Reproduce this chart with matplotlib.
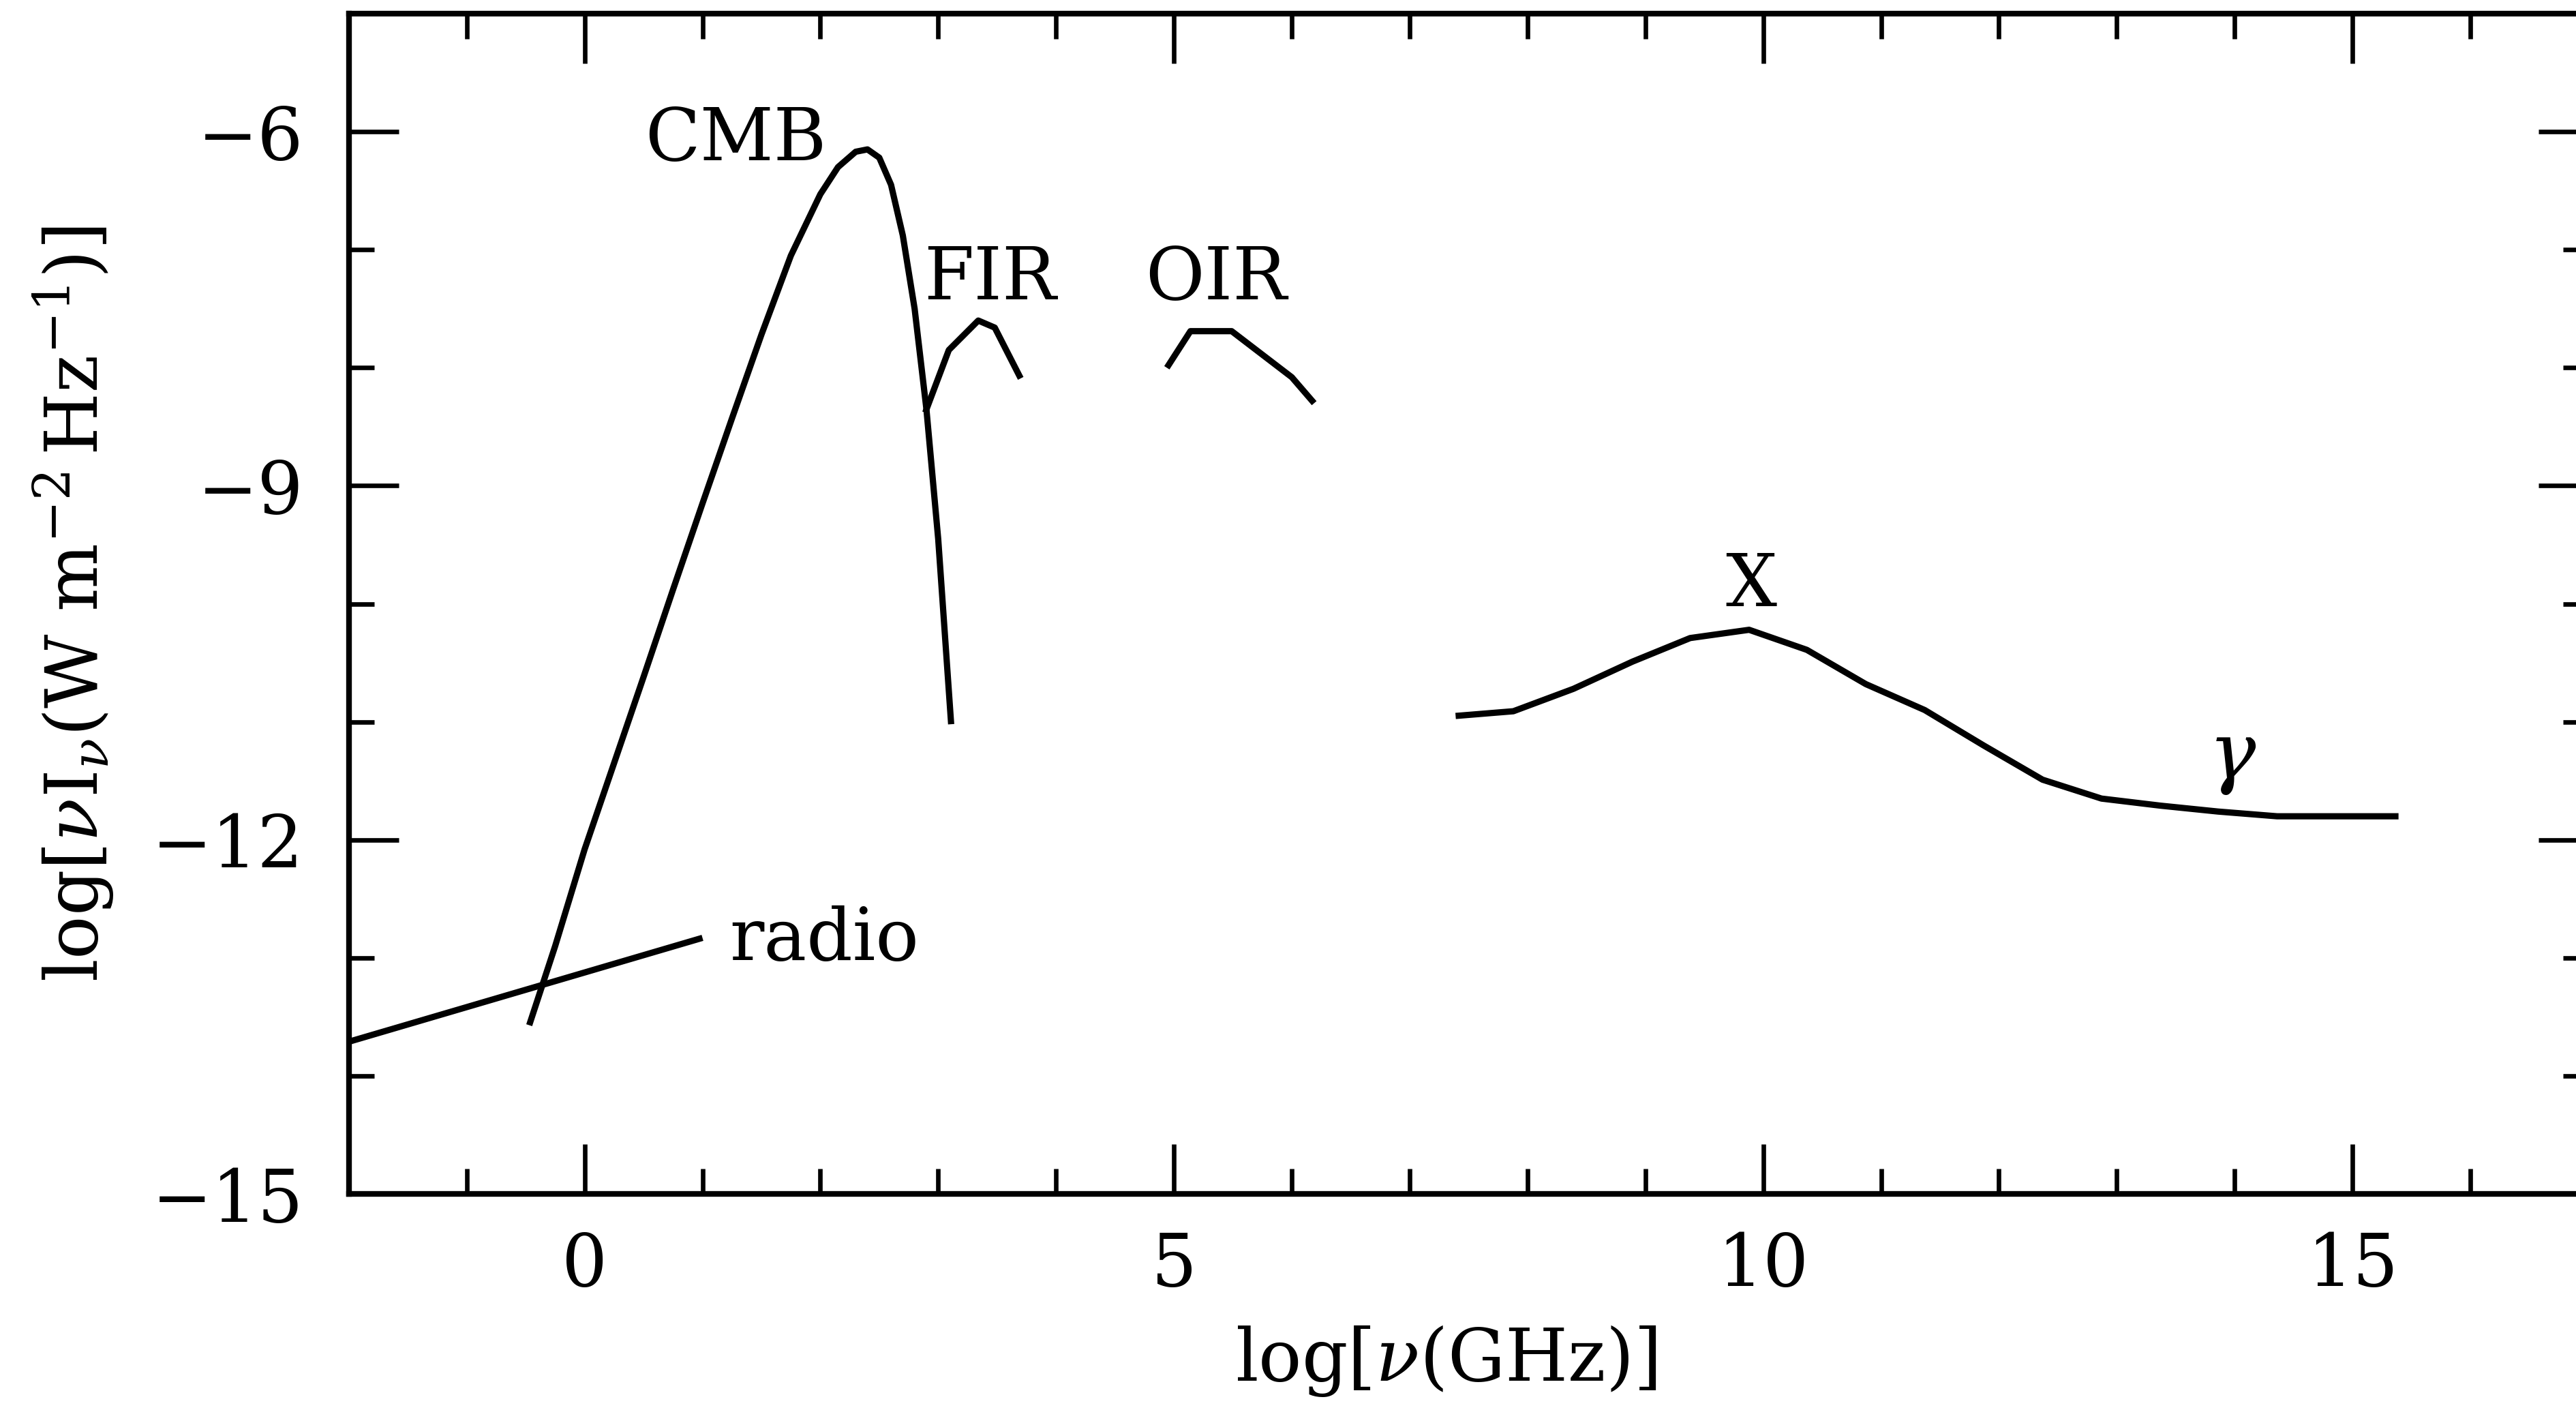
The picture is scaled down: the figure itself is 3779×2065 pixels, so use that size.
import matplotlib
matplotlib.use("Agg")
import matplotlib.pyplot as plt
from matplotlib.ticker import MultipleLocator

## Data (log frequency in GHz, log nu*I_nu)
radio_x = [-2.0, 1.0]
radio_y = [-13.71, -12.83]

cmb_x = [-0.47, -0.25, 0.0, 0.25, 0.5, 0.75, 1.0, 1.25, 1.5, 1.75, 2.0,
         2.15, 2.3, 2.4, 2.5, 2.6, 2.7, 2.8, 2.9, 3.0, 3.11]
cmb_y = [-13.57, -12.90, -12.08, -11.35, -10.62, -9.88, -9.15, -8.43, -7.72,
         -7.05, -6.53, -6.30, -6.17, -6.15, -6.22, -6.45, -6.88, -7.50,
         -8.35, -9.45, -11.02]

fir_x = [2.89, 3.09, 3.34, 3.48, 3.70]
fir_y = [-8.38, -7.85, -7.60, -7.66, -8.09]

oir_x = [4.94, 5.14, 5.49, 6.00, 6.19]
oir_y = [-8.00, -7.69, -7.69, -8.08, -8.30]

xg_x = [7.39, 7.88, 8.39, 8.89, 9.38, 9.88, 10.37, 10.87, 11.37, 11.87,
        12.37, 12.87, 13.37, 13.86, 14.36, 14.86, 15.39]
xg_y = [-10.95, -10.91, -10.72, -10.49, -10.29, -10.22, -10.39, -10.68,
        -10.90, -11.20, -11.49, -11.65, -11.71, -11.76, -11.80, -11.80, -11.80]

## label text and where it sits (data coords)
labels = ["CMB", "FIR", "OIR", "X", "radio"]
label_x = [1.28, 3.44, 5.36, 9.90, 1.23]
label_y = [-6.24, -7.42, -7.42, -10.02, -13.02]
label_ha = ["center", "center", "center", "center", "left"]

plt.rcParams["font.family"] = "DejaVu Serif"
plt.rcParams["mathtext.fontset"] = "dejavuserif"

fs = 76
lw = 6.6

fig = plt.figure(figsize=(37.8, 20.65), dpi=100)
ax = fig.add_axes([0.1354, 0.152, 0.8691, 0.8383])

for xs, ys in [(radio_x, radio_y), (cmb_x, cmb_y), (fir_x, fir_y),
               (oir_x, oir_y), (xg_x, xg_y)]:
    ax.plot(xs, ys, color="black", lw=lw, solid_capstyle="butt")

for t, x, y, ha in zip(labels, label_x, label_y, label_ha):
    ax.text(x, y, t, fontsize=fs, ha=ha, va="baseline")
ax.text(13.98, -11.31, r"$\gamma$", fontsize=fs * 1.1, ha="center", va="center")

ax.set_xlim(-2, 17)
ax.set_ylim(-15, -5)
ax.xaxis.set_major_locator(MultipleLocator(5))
ax.xaxis.set_minor_locator(MultipleLocator(1))
ax.yaxis.set_major_locator(MultipleLocator(3))
ax.yaxis.set_minor_locator(MultipleLocator(1))

ax.tick_params(which="both", direction="in", top=True, right=True,
               width=4.8, labelsize=fs)
ax.tick_params(which="major", length=52.5)
ax.tick_params(which="minor", length=26.6)
ax.tick_params(axis="x", pad=39)
ax.tick_params(axis="y", pad=48)
for sp in ax.spines.values():
    sp.set_linewidth(6.0)

fig.text(2121 / 3780, 1 - 1996 / 2065, r"$\mathrm{log}[\nu(\mathrm{GHz})]$",
         fontsize=fs, ha="center", va="center")
fig.text(108 / 3780, 1 - 886 / 2065,
         r"$\mathrm{log}[\nu \mathrm{I}_{\nu}(\mathrm{W\ m^{-2}\,Hz^{-1}})]$",
         fontsize=fs, ha="center", va="center", rotation=90)

fig.savefig("out.png", dpi=100)
